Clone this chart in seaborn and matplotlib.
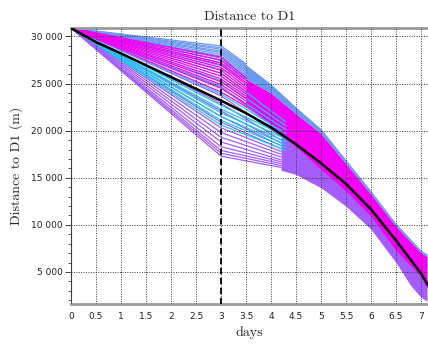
import numpy as np
import pandas as pd
import matplotlib
matplotlib.use("Agg")
import matplotlib.pyplot as plt
from matplotlib.ticker import FuncFormatter, MultipleLocator
import seaborn as sns

# ---------------- data ----------------
start_value = 30900          # common starting distance at day 0
split_day = 3.0              # vertical dashed line

# ensemble members: value at day 3 and value at the end of their short continuation
blue_d3 = [29000, 28800, 28650, 28450, 28300, 28100, 27900, 27700, 27450, 27200, 26900, 26500]
blue_end = [27100, 26950, 26800, 26650, 26500, 26350, 26200, 26050, 25900, 25750, 25600, 25500]
blue_end_day = 3.5

magenta_d3 = [27800, 27500, 27200, 27000, 26700, 26400, 26100, 25800, 25500, 25200, 24900, 24500, 24100]
magenta_end = [25600, 25350, 25100, 24900, 24650, 24400, 24150, 23900, 23650, 23400, 23150, 22850, 22550]
magenta_end_day = 3.5

cyan_d3 = [26100, 25300, 24600, 23900, 22700, 22300, 21900, 21500, 21100, 20600]
cyan_end = [20900, 20500, 20100, 19700, 19400, 19100, 18800, 18500, 18200, 17900]
cyan_end_day = 4.3

purple_d3 = [24700, 23700, 22900, 22100, 21500, 20900, 20300, 19800, 19300, 18800, 18300, 17900, 17600, 17300]
purple_end = [19800, 19400, 19000, 18700, 18400, 18100, 17800, 17500, 17200, 16900, 16700, 16500, 16300, 16100]
purple_end_day = 4.2

# forecast envelope (dense bundle of members)
band_days = [3.5, 4.0, 4.5, 5.0, 5.5, 6.0, 6.5, 7.0, 7.12]
band_top = [27000, 24950, 22500, 20200, 16900, 13600, 10150, 7300, 6900]
blue_bottom = [25500, 24000, 21800, 19700, 16500, 13250, 9850, 7050, 6650]
magenta_bottom = [22500, 20700, 18300, 15900, 13600, 10900, 7300, 4500, 3300]

purple_days = [4.2, 4.5, 5.0, 5.5, 6.0, 6.5, 6.8, 7.0, 7.12]
purple_high = [19500, 19000, 16800, 14600, 12000, 9000, 6500, 4800, 4200]
purple_low = [15800, 15350, 13940, 11980, 9540, 6000, 3520, 2320, 1900]

# reference (mean) trajectory
mean_days = [0, 0.5, 1, 1.5, 2, 2.5, 3, 3.5, 4, 4.5, 5, 5.5, 6, 6.5, 7, 7.14]
mean_values = [30900, 29400, 28200, 26950, 25700, 24450, 23200, 21850, 20350, 18550,
               16550, 14350, 11650, 8350, 4850, 3600]

x_ticks = [0, 0.5, 1, 1.5, 2, 2.5, 3, 3.5, 4, 4.5, 5, 5.5, 6, 6.5, 7]
y_ticks = [5000, 10000, 15000, 20000, 25000, 30000]

colors = {"blue": "#6a98f2", "magenta": "#f500f5", "cyan": "#19c8f0", "purple": "#a45cfa"}

# ---------------- build long table ----------------
rows = []
groups = [
    ("purple", purple_d3, purple_end, purple_end_day),
    ("cyan", cyan_d3, cyan_end, cyan_end_day),
    ("blue", blue_d3, blue_end, blue_end_day),
    ("magenta", magenta_d3, magenta_end, magenta_end_day),
]
for name, d3, dend, tend in groups:
    for i, (a, b) in enumerate(zip(d3, dend)):
        uid = f"{name}{i}"
        rows.append((name, uid, 0.0, start_value))
        rows.append((name, uid, split_day, a))
        rows.append((name, uid, tend, b))
df = pd.DataFrame(rows, columns=["group", "member", "day", "dist"])

# ---------------- style ----------------
sns.set_style("white")
plt.rcParams["font.family"] = ["DejaVu Sans"]
plt.rcParams["axes.unicode_minus"] = False

fig = plt.figure(figsize=(4.28, 3.45), dpi=100)
ax = fig.add_axes([71 / 428, 1 - 304 / 345, 1 - 71 / 428, (304 - 28) / 345])

# forecast bundle
ax.fill_between(purple_days, purple_low, purple_high, color=colors["purple"], lw=0, zorder=1.4)
ax.fill_between(band_days, magenta_bottom, blue_bottom, color=colors["magenta"], lw=0, zorder=1.5)
ax.fill_between(band_days, blue_bottom, band_top, color=colors["blue"], lw=0, zorder=1.6)

sns.lineplot(data=df, x="day", y="dist", hue="group", units="member", estimator=None,
             hue_order=["purple", "cyan", "blue", "magenta"], palette=colors,
             lw=0.9, legend=False, sort=False, ax=ax)

sns.lineplot(x=mean_days, y=mean_values, color="black", lw=1.8, ax=ax, zorder=5)

ax.axvline(split_day, color="black", ls=(0, (3.5, 2)), lw=1.3, zorder=4)

ax.set_xlim(0, 7.14)
ax.set_ylim(1600, 30900)
ax.set_xticks(x_ticks)
ax.set_yticks(y_ticks)
ax.yaxis.set_minor_locator(MultipleLocator(1000))
ax.xaxis.set_major_formatter(FuncFormatter(lambda v, p: f"{v:g}"))
ax.yaxis.set_major_formatter(FuncFormatter(lambda v, p: f"{int(v):,}".replace(",", " ")))

ax.set_axisbelow(False)
ax.grid(True, which="major", color="#3a3a3a", ls=(0, (1, 1.5)), lw=0.7)

for s in ["top", "bottom"]:
    ax.spines[s].set_color("#9a9a9a")
    ax.spines[s].set_linewidth(2)
ax.spines["right"].set_visible(False)
ax.spines["left"].set_color("#444444")
ax.spines["left"].set_linewidth(0.8)

ax.tick_params(axis="y", which="major", direction="out", length=4, width=0.7,
               color="#444444", labelsize=6.5, labelcolor="#222222", pad=2, left=True)
ax.tick_params(axis="y", which="minor", direction="out", length=2.5, width=0.6,
               color="#444444", left=True)
ax.tick_params(axis="x", which="major", length=0, labelsize=6.5, labelcolor="#222222", pad=6)

ax.set_title("Distance to D1", fontfamily="cmr10", fontsize=10, pad=6)
ax.set_xlabel("days", fontfamily="cmr10", fontsize=10, labelpad=4)
ax.set_ylabel("Distance to D1 (m)", fontfamily="cmr10", fontsize=10, labelpad=6)

fig.savefig("out.png", dpi=100)
